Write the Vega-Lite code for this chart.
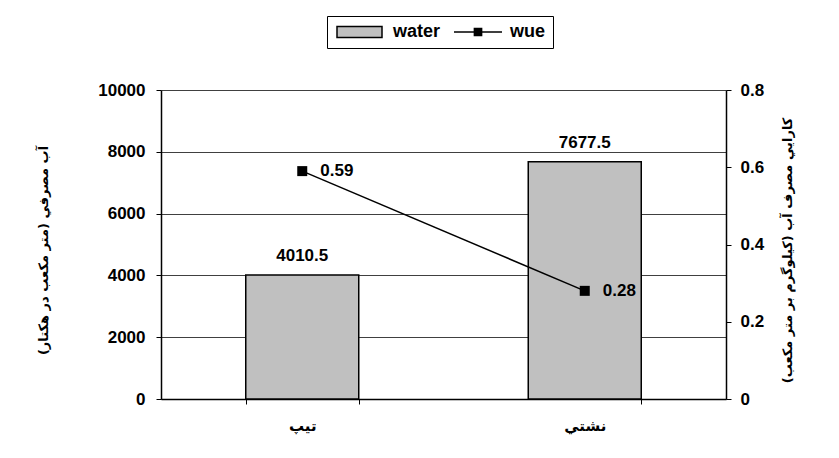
{
  "$schema": "https://vega.github.io/schema/vega-lite/v6.json",
  "width": 565,
  "height": 309,
  "autosize": {"type": "none"},
  "padding": {"left": 161, "top": 90, "right": 113, "bottom": 59},
  "background": "white",
  "config": {"view": {"stroke": null}, "font": "Liberation Sans"},
  "data": {
    "values": [
      {"method": "تيپ", "water": 4010.5, "wue": 0.59},
      {"method": "نشتي", "water": 7677.5, "wue": 0.28}
    ]
  },
  "encoding": {
    "x": {
      "field": "method",
      "type": "nominal",
      "sort": null,
      "scale": {"paddingInner": 0.6, "paddingOuter": 0.3},
      "axis": {
        "title": null,
        "domainColor": "black",
        "domainWidth": 1.5,
        "tickColor": "black",
        "tickSize": 5,
        "tickBand": "extent",
        "labelAngle": 0,
        "labelFont": "DejaVu Sans",
        "labelFontSize": 15,
        "labelFontWeight": "bold",
        "labelColor": "black",
        "labelPadding": 14
      }
    }
  },
  "layer": [
    {
      "layer": [
        {
          "mark": {"type": "bar", "strokeWidth": 1.5},
          "encoding": {
            "y": {
              "field": "water",
              "type": "quantitative",
              "scale": {"domain": [0, 10000]},
              "axis": {
                "title": "آب مصرفي (متر مكعب در هكتار)",
                "values": [0, 2000, 4000, 6000, 8000, 10000],
                "format": "d",
                "grid": true,
                "gridColor": "#404040",
                "gridWidth": 1,
                "domainColor": "black",
                "domainWidth": 1.5,
                "tickColor": "black",
                "tickSize": 5,
                "labelPadding": 11,
                "labelFontSize": 17,
                "labelFontWeight": "bold",
                "labelColor": "black",
                "titleFont": "DejaVu Sans",
                "titleFontSize": 13,
                "titleFontWeight": "bold",
                "titleColor": "black",
                "titleX": -118,
                "titleY": 160,
                "titleAngle": 270,
                "titleAlign": "center",
                "titleBaseline": "middle"
              }
            },
            "fill": {
              "datum": "water",
              "scale": {"domain": ["water", "wue"], "range": ["#c0c0c0", "#000000"]},
              "legend": {
                "orient": "none",
                "legendX": 166,
                "legendY": -74,
                "direction": "horizontal",
                "title": null,
                "strokeColor": "black",
                "padding": 7,
                "labelFont": "Liberation Sans",
                "labelFontSize": 18,
                "labelFontWeight": "bold",
                "labelColor": "black",
                "symbolSize": 144,
                "symbolOpacity": 1,
                "symbolStrokeWidth": 1.5,
                "columnPadding": 10,
                "labelOffset": 41,
                "encoding": {
                  "symbols": {
                    "shape": {"value": {"expr": "datum.value === 'water' ? 'M-1,-0.92H6.5V0.92H-1Z' : 'M-1,0H7M2.4,-0.6H3.6V0.6H2.4Z'"}},
                    "strokeWidth": {"value": 1.5},
                    "opacity": {"value": 1}
                  }
                }
              }
            },
            "stroke": {
              "datum": "water",
              "scale": {"domain": ["water", "wue"], "range": ["#000000", "#000000"]},
              "legend": {
                "orient": "none",
                "legendX": 166,
                "legendY": -74,
                "direction": "horizontal",
                "title": null,
                "strokeColor": "black",
                "padding": 7,
                "labelFont": "Liberation Sans",
                "labelFontSize": 18,
                "labelFontWeight": "bold",
                "labelColor": "black",
                "symbolSize": 144,
                "symbolOpacity": 1,
                "symbolStrokeWidth": 1.5,
                "columnPadding": 10,
                "labelOffset": 41,
                "encoding": {
                  "symbols": {
                    "shape": {"value": {"expr": "datum.value === 'water' ? 'M-1,-0.92H6.5V0.92H-1Z' : 'M-1,0H7M2.4,-0.6H3.6V0.6H2.4Z'"}},
                    "strokeWidth": {"value": 1.5},
                    "opacity": {"value": 1}
                  }
                }
              }
            }
          }
        },
        {
          "mark": {"type": "text", "baseline": "bottom", "dy": -10, "fontWeight": "bold", "fontSize": 17, "color": "black"},
          "encoding": {
            "y": {"field": "water", "type": "quantitative"},
            "text": {"field": "water", "type": "quantitative", "format": ".1f"}
          }
        }
      ]
    },
    {
      "layer": [
        {
          "mark": {"type": "line", "strokeWidth": 1.5},
          "encoding": {
            "y": {
              "field": "wue",
              "type": "quantitative",
              "scale": {"domain": [0, 0.8]},
              "axis": {
                "orient": "right",
                "title": "كارايي مصرف آب (كيلوگرم بر متر مكعب)",
                "values": [0, 0.2, 0.4, 0.6, 0.8],
                "format": ".1~f",
                "grid": false,
                "domainColor": "black",
                "domainWidth": 1.5,
                "tickColor": "black",
                "tickSize": 5,
                "labelPadding": 9,
                "labelFontSize": 17,
                "labelFontWeight": "bold",
                "labelColor": "black",
                "titleFont": "DejaVu Sans",
                "titleFontSize": 13,
                "titleFontWeight": "bold",
                "titleColor": "black",
                "titleX": 61,
                "titleY": 160,
                "titleAngle": 270,
                "titleAlign": "center",
                "titleBaseline": "middle"
              }
            },
            "stroke": {"datum": "wue", "legend": null}
          }
        },
        {
          "mark": {"type": "point", "shape": "square", "filled": true, "size": 100, "opacity": 1, "strokeWidth": 0},
          "encoding": {
            "y": {"field": "wue", "type": "quantitative"},
            "fill": {"datum": "wue", "legend": null}
          }
        },
        {
          "mark": {"type": "text", "align": "left", "baseline": "middle", "dx": 18, "fontWeight": "bold", "fontSize": 17, "color": "black"},
          "encoding": {
            "y": {"field": "wue", "type": "quantitative"},
            "text": {"field": "wue", "type": "quantitative", "format": ".2f"}
          }
        }
      ]
    }
  ],
  "resolve": {"scale": {"y": "independent"}}
}
